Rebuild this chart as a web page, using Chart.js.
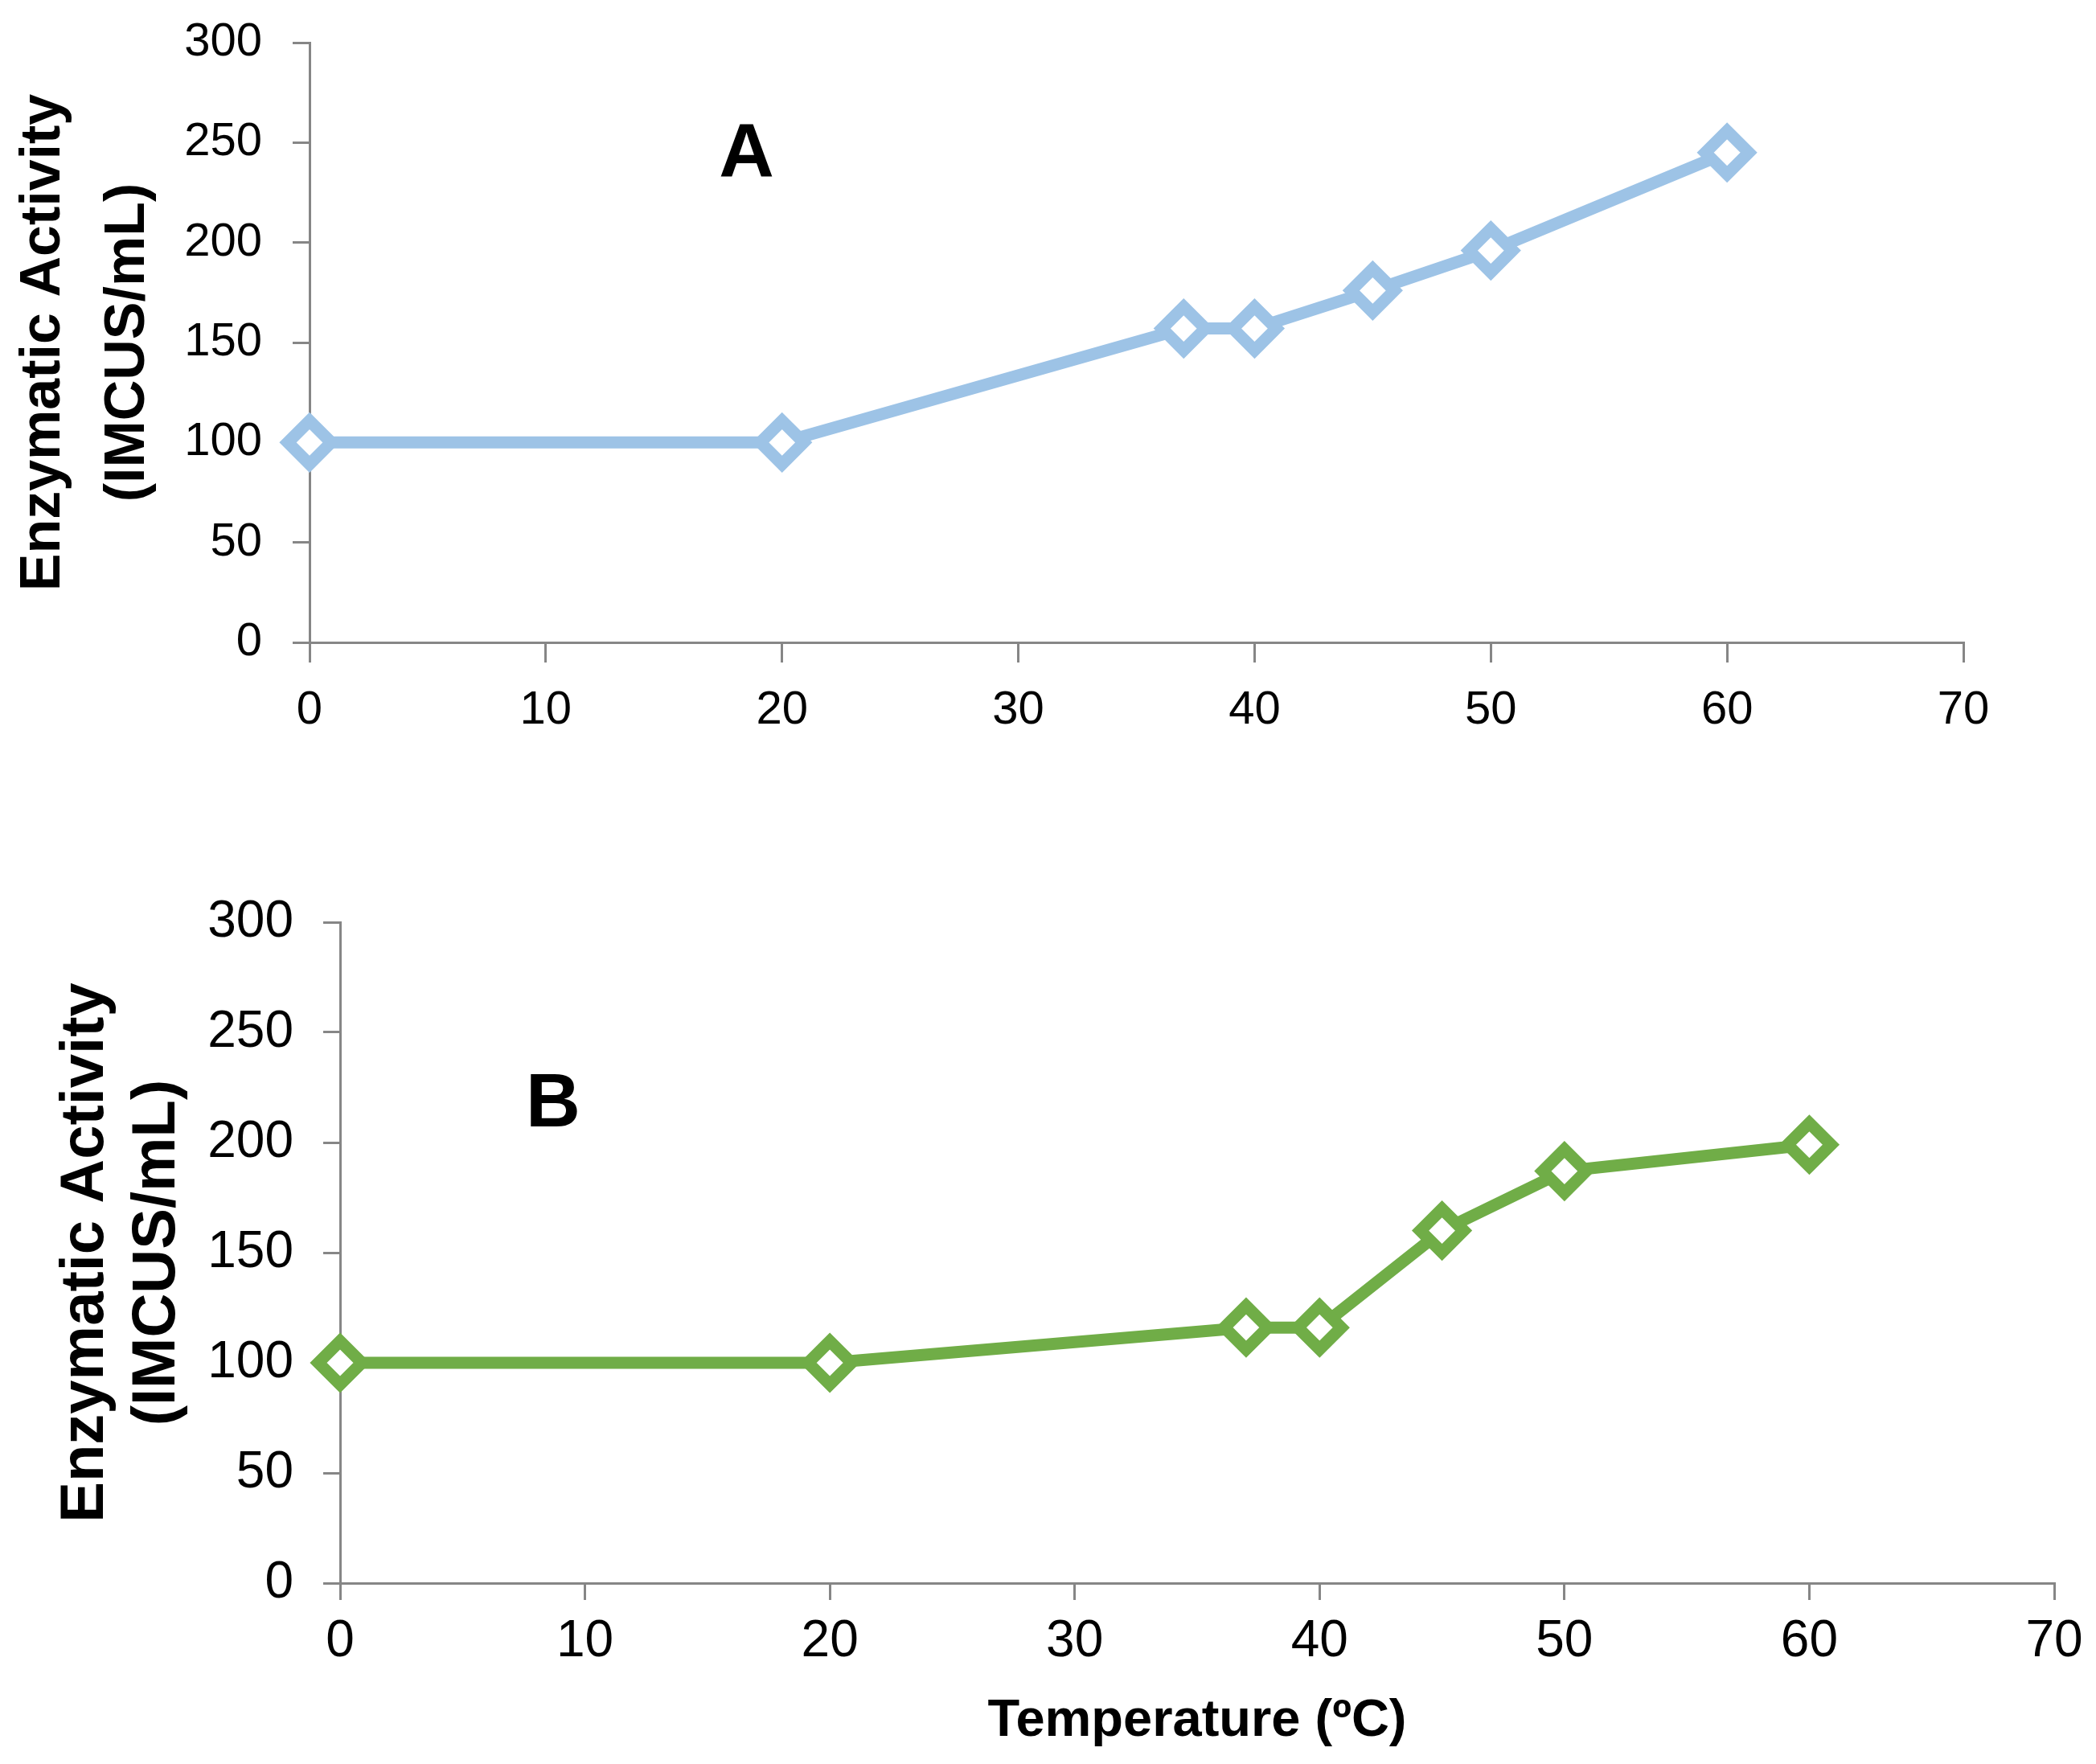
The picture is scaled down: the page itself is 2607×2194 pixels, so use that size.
<!DOCTYPE html>
<html>
<head>
<meta charset="utf-8">
<script src="https://cdn.jsdelivr.net/npm/chart.js@4/dist/chart.umd.min.js"></script>
<style>
  html, body { margin: 0; padding: 0; background: #ffffff; }
  body { width: 2607px; height: 2194px; position: relative; overflow: hidden; }
  canvas { position: absolute; left: 0; }
  #chartA { top: 0; }
  #chartB { top: 1050px; }
</style>
</head>
<body>
<canvas id="chartA" width="2607" height="1000"></canvas>
<canvas id="chartB" width="2607" height="1144"></canvas>
<script>
// ---- data ----
const temperatures = [0, 20, 37, 40, 45, 50, 60];
const activityA = [100, 100, 157, 157, 176, 196, 245];
const activityB = [100, 100, 116, 116, 160, 187, 199];
const xTicks = [0, 10, 20, 30, 40, 50, 60, 70];
const yTicks = [0, 50, 100, 150, 200, 250, 300];
const yTitleLines = ['Enzymatic Activity', '(IMCUS/mL)'];
const xTitle = 'Temperature (\u00BAC)';
const panelLabelA = { text: 'A', x: 18.5, y: 233 };
const panelLabelB = { text: 'B', x: 8.7, y: 207.3 };

const AXIS_GRAY = '#868686';
const BLUE = '#9DC3E6';
const GREEN = '#70AD47';
const FONT = "'Liberation Sans', Arial, sans-serif";

const panelLabelPlugin = {
  id: 'panelLabel',
  afterDatasetsDraw(chart, args, opts) {
    const { ctx, scales } = chart;
    const lbl = opts.label;
    ctx.save();
    ctx.font = 'bold ' + opts.size + 'px ' + FONT;
    ctx.fillStyle = '#000';
    ctx.textAlign = 'center';
    ctx.textBaseline = 'alphabetic';
    ctx.fillText(lbl.text, scales.x.getPixelForValue(lbl.x), scales.y.getPixelForValue(lbl.y));
    ctx.restore();
  }
};

function makeChart(id, cfg) {
  const points = temperatures.map((t, i) => ({ x: t, y: cfg.values[i] }));
  return new Chart(document.getElementById(id), {
    type: 'line',
    data: {
      datasets: [{
        data: points,
        borderColor: cfg.color,
        borderWidth: 15,
        tension: 0,
        pointStyle: 'rectRot',
        pointRadius: 27,
        pointHoverRadius: 27,
        pointBorderWidth: 15,
        pointBorderColor: cfg.color,
        pointBackgroundColor: '#ffffff',
        clip: false
      }]
    },
    plugins: [panelLabelPlugin],
    options: {
      responsive: false,
      animation: false,
      devicePixelRatio: 1,
      layout: { padding: { left: 0, top: cfg.padTop, right: cfg.padRight, bottom: 0 } },
      plugins: {
        legend: { display: false },
        tooltip: { enabled: false },
        panelLabel: { label: cfg.label, size: cfg.labelSize }
      },
      scales: {
        x: {
          type: 'linear',
          min: 0, max: 70,
          afterBuildTicks(scale) { scale.ticks = xTicks.map(v => ({ value: v })); },
          afterFit(scale) {
            scale.height = cfg.xAxisHeight;
            scale.paddingLeft = 0; scale.paddingRight = 0;
          },
          border: { display: true, color: AXIS_GRAY, width: 3 },
          grid: { display: true, drawOnChartArea: false, drawTicks: true, tickLength: cfg.xTickLen, color: AXIS_GRAY, lineWidth: 3 },
          ticks: { color: '#000', font: { family: FONT, size: cfg.tickSize }, padding: cfg.xTickPad, maxRotation: 0, autoSkip: false },
          title: cfg.xTitle ? {
            display: true, text: xTitle, color: '#000',
            font: { family: FONT, size: 65, weight: 'bold' },
            padding: { top: 0, bottom: 14 }
          } : { display: false }
        },
        y: {
          type: 'linear',
          min: 0, max: 300,
          afterBuildTicks(scale) { scale.ticks = yTicks.map(v => ({ value: v })); },
          afterFit(scale) {
            scale.width = cfg.yAxisWidth;
            scale.paddingTop = 0; scale.paddingBottom = 0;
          },
          border: { display: true, color: AXIS_GRAY, width: 3 },
          grid: { display: true, drawOnChartArea: false, drawTicks: true, tickLength: 21, color: AXIS_GRAY, lineWidth: 3 },
          ticks: { color: '#000', font: { family: FONT, size: cfg.tickSize }, padding: cfg.yTickPad },
          title: {
            display: true, text: yTitleLines, color: '#000',
            font: { family: FONT, size: cfg.yTitleSize, weight: 'bold', lineHeight: cfg.yTitleLH },
            padding: { top: cfg.yTitlePad, bottom: 0 }
          }
        }
      }
    }
  });
}

makeChart('chartA', {
  values: activityA, color: BLUE, label: panelLabelA, labelSize: 95,
  padTop: 53, padRight: 165, xAxisHeight: 201, yAxisWidth: 385,
  xTickLen: 25, tickSize: 58, xTickPad: 25, yTickPad: 38,
  yTitleSize: 70, yTitleLH: 1.5, yTitlePad: 2, xTitle: false
});

makeChart('chartB', {
  values: activityB, color: GREEN, label: panelLabelB, labelSize: 94,
  padTop: 97, padRight: 52, xAxisHeight: 225, yAxisWidth: 423,
  xTickLen: 21, tickSize: 64, xTickPad: 14, yTickPad: 37,
  yTitleSize: 76, yTitleLH: 1.17, yTitlePad: 63, xTitle: true
});
</script>
</body>
</html>
